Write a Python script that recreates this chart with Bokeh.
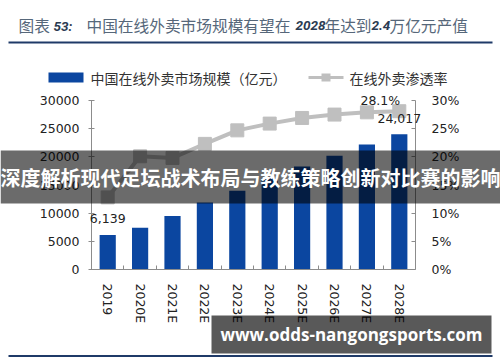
import math
from bokeh.plotting import figure
from bokeh.models import (Range1d, LinearAxis, FixedTicker, PrintfTickFormatter,
                          Label, BoxAnnotation, ColumnDataSource)
from bokeh.embed import file_html
from bokeh.resources import INLINE

# ---------------- data ----------------
years = ["2019", "2020E", "2021E", "2022E", "2023E", "2024E", "2025E", "2026E", "2027E", "2028E"]
market = [6139, 7400, 9500, 11900, 14000, 16200, 18300, 20200, 22200, 24017]   # 亿元
rate = [12.8, 20.1, 19.8, 22.3, 24.7, 25.9, 26.9, 27.5, 27.9, 28.1]           # %
left_ticks = [0, 5000, 10000, 15000, 20000, 25000, 30000]
right_ticks = [0, 5, 10, 15, 20, 25, 30]

title_parts = ["图表", "53:", "中国在线外卖市场规模有望在", "2028", "年达到", "2.4", "万亿元产值"]
legend_bar = "中国在线外卖市场规模（亿元）"
legend_line = "在线外卖渗透率"
banner_text = "深度解析现代足坛战术布局与教练策略创新对比赛的影响"
watermark = "www.odds-nangongsports.com"

# ---------------- style / layout ----------------
BAR = "#0b46a0"
GRAY = "#bfbfbf"
AX = "#8c8c8c"
NAVY = "#1f3a68"
NUM_FONT = "DejaVu Sans"
CJK = "Noto Sans CJK SC"

W, H = 500, 362
FL, FR, FT, FB = 91, 415, 100, 269      # pixel box of the value area
YMAX, PMAX = 30000, 30
n = len(years)
UX = (FR - FL) / n
UY = (FB - FT) / YMAX
UP = (FB - FT) / PMAX

xs = [i + 0.5 for i in range(n)]
src = ColumnDataSource(dict(x=xs, market=market, rate=rate, year=years))

p = figure(width=W, height=H,
           x_range=Range1d(-FL / UX, (W - FL) / UX),
           y_range=Range1d(-(H - FB) / UY, FB / UY),
           output_backend="svg", toolbar_location=None, title=None,
           min_border=0)
p.xgrid.visible = False
p.ygrid.visible = False
p.outline_line_color = None
p.background_fill_color = "white"
p.border_fill_color = "white"

p.extra_y_ranges = {"pct": Range1d(-(H - FB) / UP, FB / UP)}

p.vbar(x="x", top="market", width=0.5, source=src, fill_color=BAR, line_color=None)
p.line("x", "rate", source=src, y_range_name="pct", line_color=GRAY, line_width=4)
p.scatter("x", "rate", source=src, y_range_name="pct", marker="square", size=13,
          fill_color=GRAY, line_color=GRAY)

# left axis
ya = p.yaxis[0]
ya.fixed_location = 0
ya.bounds = (0, YMAX)
ya.ticker = FixedTicker(ticks=left_ticks)
ya.formatter = PrintfTickFormatter(format="%d")
ya.axis_line_color = AX
ya.major_tick_line_color = AX
ya.major_tick_in = 3
ya.major_tick_out = 3
ya.minor_tick_line_color = None
ya.major_label_standoff = 9
ya.major_label_text_font = NUM_FONT
ya.major_label_text_font_size = "12.5px"
ya.major_label_text_color = "#222222"

# right axis
ra = LinearAxis(y_range_name="pct", ticker=FixedTicker(ticks=right_ticks),
                formatter=PrintfTickFormatter(format="%d%%"), fixed_location=n,
                bounds=(0, PMAX))
ra.axis_line_color = AX
ra.major_tick_line_color = AX
ra.major_tick_in = 4
ra.major_tick_out = 0
ra.minor_tick_line_color = None
ra.major_label_standoff = 16
ra.major_label_text_font = NUM_FONT
ra.major_label_text_font_size = "12.5px"
ra.major_label_text_color = "#222222"
p.add_layout(ra, "right")

# bottom axis
xa = p.xaxis[0]
xa.fixed_location = 0
xa.bounds = (0, n)
xa.ticker = FixedTicker(ticks=xs, minor_ticks=list(range(1, n)))
xa.major_label_overrides = {x: y for x, y in zip(xs, years)}
xa.major_tick_line_color = None
xa.minor_tick_line_color = AX
xa.minor_tick_in = 4
xa.minor_tick_out = 0
xa.axis_line_color = AX
xa.major_label_orientation = -math.pi / 2
xa.major_label_standoff = 8
xa.major_label_text_font = NUM_FONT
xa.major_label_text_font_size = "12.5px"
xa.major_label_text_color = "#222222"

# data labels
for i in (0, n - 1):
    p.add_layout(Label(x=xs[i], y=market[i], y_offset=16, text=f"{market[i]:,}",
                       text_align="center", text_baseline="middle", text_font=NUM_FONT,
                       text_font_size="12.5px", text_color="#222222"))
p.add_layout(Label(x=xs[-1], y=rate[-1], y_range_name="pct", x_offset=-19, y_offset=11,
                   text=f"{rate[-1]}%", text_align="center", text_baseline="middle",
                   text_font=NUM_FONT, text_font_size="12.5px", text_color="#222222"))

# helpers: page pixel -> data coordinates
def dx(px):
    return (px - FL) / UX

def dy(py):
    return (FB - py) / UY

def box(l, r, t, b, color, alpha=1.0):
    p.add_layout(BoxAnnotation(left=dx(l), right=dx(r), top=dy(t), bottom=dy(b),
                               fill_color=color, fill_alpha=alpha, line_color=None))

def text(x, y, s, font, size, color, align="left", style="normal"):
    p.add_layout(Label(x=dx(x), y=dy(y), text=s, text_font=font, text_font_size=size,
                       text_color=color, text_align=align, text_baseline="middle",
                       text_font_style=style))

# title
TCOL = "#56677a"
NCOL = "#2b3b52"
title_x = [18, 53, 86, 295, 324, 371, 389]
for k, (s, x) in enumerate(zip(title_parts, title_x)):
    if k % 2 == 1:
        text(x, 25, s, "Roboto", "13.5px", NCOL, style="bold italic")
    else:
        text(x, 25, s, CJK, "15.7px", TCOL)
box(8, 492, 41, 43, NAVY)

# legend
box(48, 83, 72, 82, BAR)
text(90, 77, legend_bar, CJK, "14px", "#333333")
box(308, 343, 75.5, 78.5, GRAY)
box(321, 330, 73, 81, GRAY)
text(349, 77, legend_line, CJK, "14px", "#333333")

# bottom rule
box(8, 492, 354.5, 356.5, NAVY)

# banner overlay
box(0, 500, 150, 203, "#000000", 0.58)
text(250, 177, banner_text, CJK, "20px", "white", align="center", style="bold")

# watermark overlay
box(211, 491, 315, 353, "#000000", 0.65)
text(351, 334, watermark, "Open Sans", "17px", "white", align="center", style="bold")

open("out.html", "w").write(file_html(p, INLINE))
